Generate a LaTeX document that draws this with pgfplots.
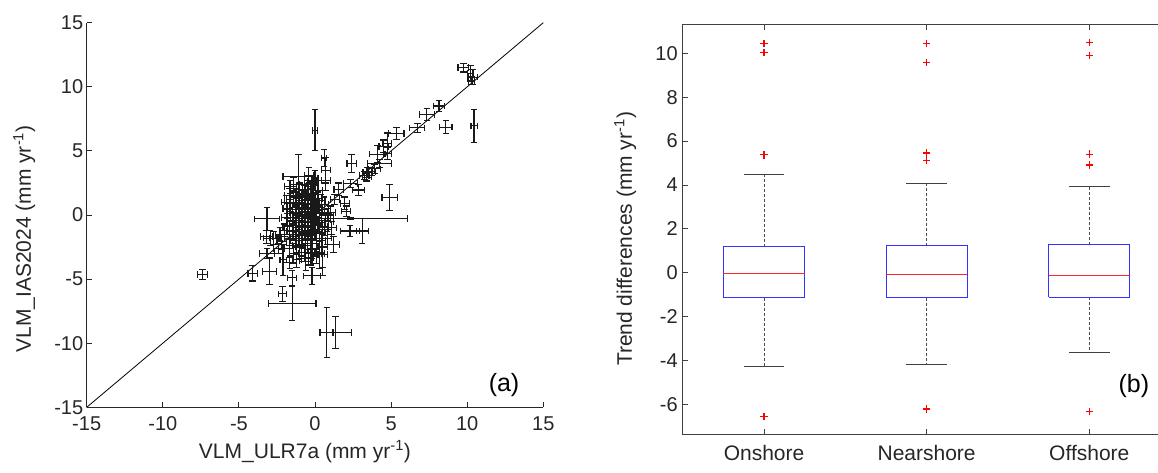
\documentclass[border=0pt]{standalone}
\usepackage{pgfplots}
\pgfplotsset{compat=1.18}
\usepackage{pgfplotstable}
\usepackage{fontspec}
\setmainfont{Liberation Sans}
\definecolor{axgray}{HTML}{262626}

% VLM comparison: x, y, x error, y error
\pgfplotstableread{
x y ex ey
-7.4 -4.65 0.33 0.4
-4.1 -4.55 0.3 0.6
-3.0 -4.4 0.45 1.05
-3.15 -3.0 0.5 0.4
-3.15 -0.3 0.8 0.9
-3.2 -1.7 0.4 0.5
-2.7 -1.8 0.3 0.5
-2.95 -1.8 0.45 0.6
-2.15 -6.15 0.25 0.6
-1.5 -6.9 1.57 1.3
-1.65 -3.7 0.45 0.5
-1.5 -4.9 0.3 0.6
-2.1 -3.5 0.2 1.2
-0.2 -4.75 0.55 0.65
0.78 -9.15 0.4 1.95
1.36 -9.15 1.05 1.25
0.0 6.6 0.15 1.6
0.6 4.45 0.15 0.65
0.7 3.5 0.3 1.0
-1.1 3.0 1.0 1.7
2.4 4.0 0.3 0.7
2.35 2.45 0.45 0.3
2.85 1.95 0.4 0.45
1.55 2.0 0.3 0.5
1.95 0.9 0.3 0.5
2.05 0.3 0.3 0.4
2.3 -1.25 0.6 0.45
3.1 -1.25 0.4 1.0
2.35 -0.27 3.75 0.1
4.9 1.35 0.5 1.0
3.25 3.1 0.3 0.3
3.45 3.3 0.3 0.4
3.7 3.4 0.3 0.3
3.9 3.6 0.4 0.35
3.4 2.95 0.3 0.3
4.25 4.0 0.8 0.3
4.1 4.75 0.5 0.65
4.5 5.35 0.3 0.5
4.75 5.6 0.3 0.8
4.75 4.8 0.25 0.5
5.35 6.35 0.5 0.45
6.72 6.8 0.5 0.35
7.35 7.85 0.5 0.45
8.15 8.5 0.35 0.45
8.6 6.85 0.4 0.5
10.45 6.95 0.2 1.3
9.75 11.5 0.35 0.35
10.2 11.05 0.2 0.6
10.35 10.75 0.3 0.6
10.3 10.5 0.2 0.3
1.0 0.2 0.35 0.5
1.3 1.2 0.3 0.4
0.5 -3.1 0.3 1.6
-1.9 1.0 0.3 0.5
-1.7 1.5 0.3 0.6
-1.6 0.4 0.3 0.8
-1.5 -0.5 0.3 0.7
-1.5 -1.3 0.4 0.6
-1.4 1.8 0.3 0.4
-1.3 0.9 0.4 0.5
-1.3 -0.2 0.3 1.0
-1.2 -1.0 0.3 0.8
-1.2 0.2 0.5 0.5
-1.1 1.3 0.3 0.7
-1.1 -0.6 0.3 0.5
-1.0 2.0 0.4 0.5
-1.0 0.6 0.3 0.9
-1.0 -1.6 0.3 0.7
-0.9 -0.3 0.4 0.6
-0.9 1.0 0.3 0.4
-0.9 -2.3 0.3 0.9
-0.8 0.2 0.3 0.6
-0.8 1.6 0.4 0.8
-0.8 -1.0 0.5 0.5
-0.7 -0.5 0.3 0.7
-0.7 2.4 0.3 0.6
-0.7 -2.9 0.3 0.7
-0.6 0.5 0.3 1.1
-0.6 -1.4 0.3 0.5
-0.6 1.2 0.3 0.5
-0.5 -0.2 0.4 0.6
-0.5 -2.0 0.3 1.0
-0.5 2.0 0.3 0.7
-0.4 0.8 0.3 0.5
-0.4 -0.9 0.3 0.8
-0.4 -3.3 0.3 0.6
-0.3 0.0 0.3 0.5
-0.3 1.5 0.3 0.9
-0.3 -1.6 0.4 0.6
-0.2 -0.5 0.3 0.7
-0.2 2.6 0.3 0.5
-0.2 -2.6 0.3 0.8
-0.1 0.4 0.3 0.6
-0.1 -1.1 0.3 0.5
0.0 1.0 0.3 0.7
0.0 -0.2 0.4 1.2
0.0 2.9 0.2 0.6
0.1 -2.0 0.3 0.9
0.1 0.6 0.3 0.5
0.2 -0.8 0.3 0.6
0.2 1.9 0.3 0.8
0.3 0.2 0.3 0.5
0.3 -1.4 0.4 0.7
0.4 -0.4 0.3 0.6
0.4 1.1 0.3 0.5
0.5 -2.5 0.3 1.6
0.5 0.4 0.4 0.4
0.6 -1.0 0.3 0.6
0.7 2.7 0.3 0.8
0.8 0.0 0.4 0.5
0.8 -1.8 0.3 0.5
0.9 -0.5 0.3 0.6
1.1 -1.0 0.3 0.5
1.2 -2.3 0.4 0.6
-1.8 -0.9 0.3 0.6
-2.0 -1.2 0.3 0.5
-2.2 -2.1 0.3 0.6
-1.7 -2.6 0.3 0.7
-1.4 -3.0 0.3 0.8
-1.2 -3.5 0.3 0.6
-1.0 -2.5 0.3 0.9
-0.6 -3.6 0.4 0.7
-0.3 -2.9 0.3 1.0
0.3 -3.0 0.3 1.2
-2.4 -2.6 0.3 0.4
-1.6 2.2 0.4 0.5
-0.4 3.1 0.3 0.6
-1.3 -2.0 0.3 0.5
-1.9 -0.2 0.3 0.6
-1.8 0.5 0.3 0.4
-1.7 -1.8 0.3 0.6
-1.6 1.0 0.4 0.7
-1.5 0.1 0.3 0.5
-1.4 -0.8 0.3 0.9
-1.4 2.4 0.3 0.5
-1.3 1.5 0.3 0.6
-1.2 -2.4 0.3 0.7
-1.1 0.0 0.4 0.6
-1.0 -0.4 0.3 0.5
-1.0 1.1 0.3 0.6
-0.9 0.4 0.3 0.7
-0.9 -1.3 0.3 0.5
-0.8 -2.0 0.3 0.6
-0.8 0.9 0.4 0.5
-0.7 0.0 0.3 0.9
-0.7 1.9 0.3 0.4
-0.6 -0.8 0.3 0.7
-0.6 -2.4 0.3 1.0
-0.5 0.6 0.3 0.5
-0.5 1.4 0.4 0.6
-0.4 -1.3 0.3 0.5
-0.4 0.2 0.3 0.7
-0.3 -0.6 0.3 0.9
-0.3 2.2 0.3 0.5
-0.2 1.1 0.3 0.6
-0.2 -2.0 0.3 0.7
-0.1 -0.3 0.3 0.5
-0.1 1.6 0.3 0.9
0.0 -1.4 0.3 0.6
0.1 0.2 0.3 0.5
0.1 -3.0 0.3 0.8
0.2 1.3 0.3 0.5
0.3 -0.6 0.3 0.7
0.4 -2.0 0.3 0.9
0.5 -0.9 0.3 0.5
0.6 0.8 0.3 0.6
0.7 -0.4 0.3 0.5
-2.3 -1.5 0.3 0.5
}\vlm

\begin{document}
\begin{tikzpicture}
\path[use as bounding box] (0,0) rectangle (1158pt,472pt);

% (a) scatter with error bars
\begin{axis}[
    at={(86.7pt,64.7pt)}, anchor=south west,
    scale only axis, width=456.6pt, height=384.6pt,
    xmin=-15, xmax=15, ymin=-15, ymax=15,
    axis x line*=bottom, axis y line*=left,
    axis line style={-, axgray, line width=0.9pt},
    tick align=inside, major tick length=5pt,
    tick style={axgray, line width=0.9pt},
    xtick={-15,-10,-5,0,5,10,15}, xticklabels={-15,-10,-5,0,5,10,15},
    ytick={-15,-10,-5,0,5,10,15}, yticklabels={-15,-10,-5,0,5,10,15},
    ticklabel style={font=\fontsize{20}{24}\selectfont, text=axgray},
    xticklabel style={yshift=-6pt},
    xlabel={VLM\_ULR7a (mm yr\textsuperscript{-1})},
    ylabel={VLM\_IAS2024 (mm yr\textsuperscript{-1})},
    label style={font=\fontsize{21}{25}\selectfont, text=axgray},
    xlabel style={at={(axis description cs:0.478,-0.132)}, anchor=base},
    ylabel style={at={(axis description cs:-0.137,0.4376)}, anchor=center},
    clip=false,
]
\addplot[black, line width=0.8pt] coordinates {(-15,-15) (15,15)};
\addplot[draw=none, mark=none,
    error bars/.cd, x dir=both, x explicit, y dir=both, y explicit,
    error mark=-,
    error bar style={draw=black!90, line width=1.15pt},
    error mark options={rotate=90, draw=black!90, mark size=3.3pt, line width=1.15pt}]
    table[x=x, y=y, x error=ex, y error=ey] {\vlm};
\node[font=\fontsize{25}{30}\selectfont, text=black] at (axis cs:12.42,-13.3) {(a)};
\end{axis}

% (b) box plots of trend differences
\begin{axis}[
    at={(682.7pt,37.7pt)}, anchor=south west,
    scale only axis, width=487.9pt, height=409.6pt,
    xmin=0.5, xmax=3.5, ymin=-7.35, ymax=11.3,
    axis line style={black!75, line width=1pt},
    tick align=inside, major tick length=5pt,
    tick style={black!75, line width=1pt},
    xtick={1,2,3}, xticklabels={Onshore,Nearshore,Offshore},
    ytick={-6,-4,-2,0,2,4,6,8,10}, yticklabels={-6,-4,-2,0,2,4,6,8,10},
    ticklabel style={font=\fontsize{20}{24}\selectfont, text=axgray},
    xticklabel style={font=\fontsize{21}{25}\selectfont, yshift=-7pt},
    yticklabel style={xshift=-1.5pt},
    ylabel={Trend differences (mm yr\textsuperscript{-1})},
    label style={font=\fontsize{21}{25}\selectfont, text=axgray},
    ylabel style={at={(axis description cs:-0.118,0.477)}, anchor=center},
    clip=false,
]
% whiskers
\addplot[black!70, densely dashed, line width=0.7pt] coordinates {(1,1.19) (1,4.47)};
\addplot[black!70, densely dashed, line width=0.7pt] coordinates {(1,-1.14) (1,-4.26)};
\addplot[black!70, densely dashed, line width=0.7pt] coordinates {(2,1.23) (2,4.06)};
\addplot[black!70, densely dashed, line width=0.7pt] coordinates {(2,-1.14) (2,-4.15)};
\addplot[black!70, densely dashed, line width=0.7pt] coordinates {(3,1.29) (3,3.94)};
\addplot[black!70, densely dashed, line width=0.7pt] coordinates {(3,-1.11) (3,-3.63)};
% caps
\addplot[black!75, line width=1pt] coordinates {(0.875,4.47) (1.125,4.47)};
\addplot[black!75, line width=1pt] coordinates {(0.875,-4.26) (1.125,-4.26)};
\addplot[black!75, line width=1pt] coordinates {(1.875,4.06) (2.125,4.06)};
\addplot[black!75, line width=1pt] coordinates {(1.875,-4.15) (2.125,-4.15)};
\addplot[black!75, line width=1pt] coordinates {(2.875,3.94) (3.125,3.94)};
\addplot[black!75, line width=1pt] coordinates {(2.875,-3.63) (3.125,-3.63)};
% boxes
\addplot[blue!80, line width=1pt] coordinates {(0.75,-1.14) (1.25,-1.14) (1.25,1.19) (0.75,1.19) (0.75,-1.14)};
\addplot[blue!80, line width=1pt] coordinates {(1.75,-1.14) (2.25,-1.14) (2.25,1.23) (1.75,1.23) (1.75,-1.14)};
\addplot[blue!80, line width=1pt] coordinates {(2.75,-1.11) (3.25,-1.11) (3.25,1.29) (2.75,1.29) (2.75,-1.11)};
% medians
\addplot[red!85, line width=1pt] coordinates {(0.75,-0.05) (1.25,-0.05)};
\addplot[red!85, line width=1pt] coordinates {(1.75,-0.08) (2.25,-0.08)};
\addplot[red!85, line width=1pt] coordinates {(2.75,-0.10) (3.25,-0.10)};
% outliers
\addplot[only marks, mark=+, red, mark size=3.6pt, mark options={draw=red, line width=1.1pt}] coordinates {
    (1,10.45) (1,10.04) (1,5.37) (1,-6.55)
    (2,10.45) (2,9.58) (2,5.46) (2,5.1) (2,-6.2)
    (3,10.5) (3,9.9) (3,5.41) (3,4.91) (3,-6.3)};
\node[font=\fontsize{25}{30}\selectfont, text=black] at (axis cs:3.274,-5.13) {(b)};
\end{axis}
\end{tikzpicture}
\end{document}
